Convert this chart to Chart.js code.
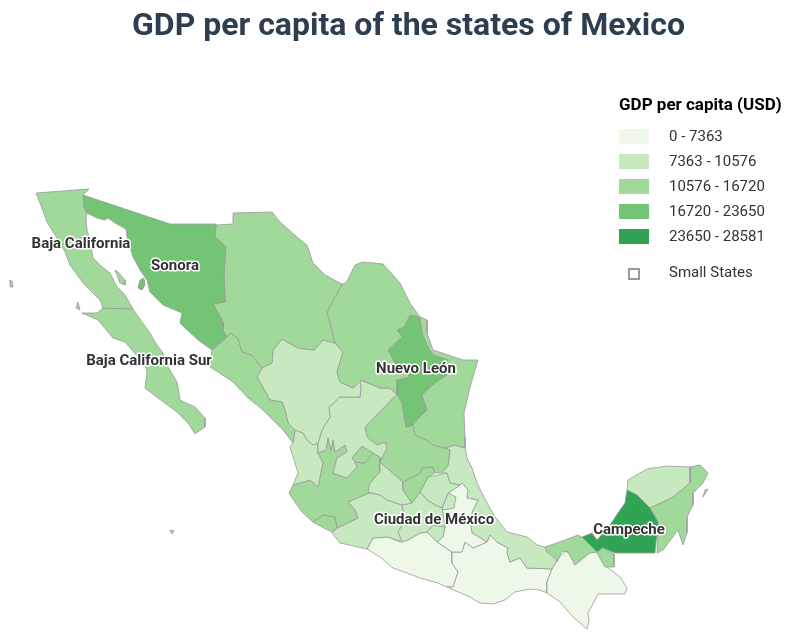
<!DOCTYPE html>
<html>
<head>
<meta charset="utf-8">
<title>GDP per capita of the states of Mexico</title>
<script src="https://cdn.jsdelivr.net/npm/chart.js@4/dist/chart.umd.min.js"></script>
<style>
  html, body { margin: 0; background: #fff; font-family: Roboto, sans-serif; }
  #wrap { position: relative; width: 794px; height: 644px; overflow: hidden; }
  #mapChart { position: absolute; left: 0; top: 0; }
  h1 { position: absolute; left: 0; width: 817px; top: 4px; margin: 0; text-align: center; font-size: 32px; line-height: 40px; font-weight: 700; color: #2c3e50; }
  #legend { position: absolute; left: 619px; top: 94px; color: #333; font-size: 15px; }
  #legend b { display: block; color: #000; font-size: 17px; line-height: 20px; white-space: nowrap; margin-bottom: 15px; }
  .row { position: relative; height: 25px; line-height: 15px; white-space: nowrap; padding-left: 50px; }
  .row i { position: absolute; left: 0; top: 0; width: 30px; height: 15px; }
  .small { margin-top: 11px; }
  .small i { left: 9px; top: 3px; width: 8px; height: 8px; border: 2px solid #999; box-sizing: content-box; }
</style>
</head>
<body>
<div id="wrap">
  <canvas id="mapChart" width="794" height="644"></canvas>
  <h1>GDP per capita of the states of Mexico</h1>
  <div id="legend"><b>GDP per capita (USD)</b></div>
</div>
<script>
// Legend bands
const bandLabels = ['0 - 7363', '7363 - 10576', '10576 - 16720', '16720 - 23650', '23650 - 28581'];
const bandColors = ['#edf8e9', '#c7e9c0', '#a1d99b', '#74c476', '#31a354'];

// State outlines in map units
const bajaCalifornia = [[36,193],[89,189],[83,195],[84,208],[87,213],[86,218],[87,230],[90,240],[93,258],[100,265],[110,273],[117,287],[125,295],[133,309],[103,308],[100,300],[83,283],[70,265],[65,252],[60,243],[47,222],[40,203]];
const bajaCaliforniaSur = [[103,308],[133,309],[142,322],[150,333],[155,342],[163,353],[168,367],[177,382],[178,387],[180,400],[195,407],[205,418],[205,427],[195,434],[188,423],[177,412],[158,398],[145,388],[147,372],[145,365],[125,342],[113,338],[98,320],[82,313],[97,313]];
const sonora = [[83,195],[170,224],[216,224],[215,237],[226,247],[224,273],[225,302],[213,304],[223,322],[223,330],[227,337],[212,350],[198,340],[185,328],[180,323],[182,313],[163,305],[150,292],[147,280],[140,270],[133,257],[127,237],[126,229],[115,223],[108,218],[105,220],[97,218],[87,213],[84,208]];
const chihuahua = [[233,213],[272,212],[280,222],[297,237],[307,245],[313,263],[325,275],[342,284],[327,312],[335,343],[323,340],[314,350],[298,348],[282,339],[273,350],[272,363],[262,368],[252,355],[242,352],[238,338],[230,333],[227,337],[223,330],[223,322],[213,304],[225,302],[224,273],[226,247],[215,237],[216,225],[233,224]];
const coahuila = [[342,284],[346,283],[355,265],[363,262],[383,264],[400,283],[410,303],[420,317],[410,315],[404,327],[397,330],[402,337],[388,350],[395,363],[410,377],[397,380],[397,394],[390,388],[380,388],[362,380],[353,388],[340,382],[337,372],[343,352],[335,343],[327,312]];
const nuevoLeon = [[410,315],[420,317],[422,333],[428,347],[433,355],[448,360],[447,375],[435,383],[422,395],[427,410],[417,420],[413,425],[406,427],[402,403],[397,394],[397,380],[410,377],[395,363],[388,350],[402,337],[397,330],[404,327]];
const tamaulipas = [[420,317],[427,320],[427,333],[433,350],[448,355],[463,360],[478,360],[470,387],[464,413],[465,437],[465,448],[455,445],[445,448],[433,445],[427,440],[415,435],[413,425],[417,420],[427,410],[422,395],[435,383],[447,375],[448,360],[433,355],[428,347],[422,333]];
const sinaloa = [[227,337],[230,333],[238,338],[242,352],[252,355],[262,368],[257,377],[270,400],[282,402],[285,410],[288,423],[295,430],[293,443],[283,430],[263,410],[248,398],[233,382],[218,372],[210,367],[212,350]];
const durango = [[282,339],[273,350],[272,363],[262,368],[257,377],[270,400],[282,402],[285,410],[288,423],[295,430],[303,433],[307,440],[313,445],[318,443],[322,430],[330,417],[329,407],[340,397],[360,397],[361,387],[360,380],[353,388],[340,382],[337,372],[343,352],[335,343],[323,340],[314,350],[298,348]];
const zacatecas = [[397,394],[365,427],[367,437],[377,445],[385,442],[387,448],[382,458],[373,453],[362,446],[352,458],[355,462],[357,467],[347,478],[333,473],[337,458],[347,452],[345,445],[335,452],[333,440],[331,450],[328,438],[326,450],[318,453],[318,443],[322,430],[330,417],[329,407],[340,397],[360,397],[361,387],[360,380],[380,388],[390,388]];
const aguascalientes = [[352,458],[362,446],[373,453],[365,463],[355,462]];
const sanLuisPotosi = [[397,394],[402,403],[406,427],[413,425],[415,435],[427,440],[433,445],[445,448],[450,450],[448,465],[442,473],[435,473],[433,467],[422,468],[420,473],[403,482],[380,462],[382,458],[387,448],[385,442],[377,445],[367,437],[365,427]];
const queretaro = [[403,482],[420,473],[422,468],[433,467],[435,473],[428,477],[420,492],[412,503],[403,490]];
const guanajuato = [[380,462],[403,482],[403,490],[412,503],[402,505],[387,500],[380,495],[368,492],[370,483],[380,472],[380,458]];
const nayarit = [[293,443],[295,430],[303,433],[307,440],[313,445],[318,443],[318,453],[323,463],[322,467],[318,487],[310,480],[293,485],[298,473],[290,447]];
const jalisco = [[293,485],[310,480],[318,487],[322,467],[323,463],[318,453],[326,450],[328,438],[331,450],[333,440],[335,452],[345,445],[347,452],[337,458],[333,473],[347,478],[357,467],[355,462],[365,463],[373,453],[380,458],[380,472],[370,483],[369,493],[348,502],[355,510],[358,518],[337,528],[335,517],[323,515],[313,522],[302,512],[292,498],[289,493]];
const colima = [[313,522],[323,515],[335,517],[337,527],[332,532],[318,525]];
const michoacan = [[369,493],[380,495],[387,500],[402,505],[405,520],[398,532],[402,542],[388,537],[373,538],[367,549],[340,543],[332,533],[337,528],[358,518],[355,510],[348,502]];
const mexicoState = [[412,503],[420,492],[427,500],[435,505],[442,508],[444,520],[445,527],[433,525],[427,532],[420,533],[408,540],[402,542],[398,532],[405,520],[402,505]];
const ciudadDeMexico = [[422,517],[430,515],[432,524],[425,527]];
const morelos = [[427,532],[433,525],[445,527],[443,537],[437,542]];
const hidalgo = [[428,477],[438,475],[447,473],[450,483],[460,485],[450,492],[448,493],[442,508],[435,505],[427,500],[420,492]];
const tlaxcala = [[448,493],[456,497],[454,508],[444,510],[442,508]];
const puebla = [[462,483],[468,490],[467,498],[478,500],[473,510],[470,520],[472,533],[487,542],[473,548],[465,542],[462,552],[452,552],[437,542],[443,537],[445,527],[444,520],[442,508],[448,493],[460,485]];
const veracruz = [[465,448],[467,458],[472,468],[477,483],[487,503],[495,517],[507,532],[527,537],[537,545],[545,547],[547,552],[557,560],[552,569],[527,568],[520,558],[510,562],[507,553],[508,548],[497,542],[490,535],[487,542],[472,533],[470,520],[473,510],[478,500],[467,498],[468,490],[462,483],[460,485],[450,483],[447,473],[442,473],[448,465],[450,450],[445,448],[455,445]];
const tabasco = [[545,547],[565,540],[578,535],[583,538],[588,543],[597,552],[590,553],[575,565],[568,552],[562,551],[557,562],[547,552]];
const tabascoEast = [[602,548],[614,554],[614,567],[605,567],[597,553]];
const campeche = [[627,490],[637,495],[650,508],[658,522],[655,553],[615,553],[603,548],[597,552],[588,543],[582,537],[592,533],[597,540],[610,525],[620,510],[625,503]];
const yucatan = [[627,490],[628,480],[647,469],[667,466],[690,467],[690,483],[673,497],[650,508],[637,495]];
const quintanaRoo = [[690,467],[700,465],[708,473],[703,483],[693,493],[693,505],[687,517],[687,533],[683,545],[678,530],[663,550],[657,553],[658,522],[650,508],[673,497],[690,483]];
const cozumel = [[705,490],[708,489],[703,497]];
const chiapas = [[552,569],[557,560],[565,551],[570,553],[575,564],[587,552],[597,552],[607,567],[620,577],[627,588],[625,594],[598,594],[588,613],[589,620],[587,629],[573,617],[560,602],[547,593],[547,582]];
const oaxaca = [[452,552],[462,552],[465,542],[473,548],[487,542],[490,535],[497,542],[508,548],[507,553],[510,562],[520,558],[527,568],[552,569],[547,582],[547,593],[540,590],[530,589],[515,592],[505,600],[493,604],[480,603],[470,597],[447,587],[453,587],[458,572],[452,563]];
const guerrero = [[367,549],[373,538],[388,537],[400,542],[408,540],[420,533],[427,532],[437,542],[452,552],[452,563],[458,572],[453,587],[447,587],[438,583],[420,578],[407,573],[393,568],[380,557]];
const guadalupeIsland = [[10,280],[12,281],[13,287],[10,287]];
const cedrosIsland = [[78,302],[80,310],[76,308]];
const angelIsland = [[115,270],[118,272],[125,280],[125,285],[120,283]];
const tiburonIsland = [[140,280],[144,278],[145,285],[142,290],[138,288]];
const socorroIsland = [[170,530],[174,531],[172,534]];

const stateOutlines = [bajaCalifornia, angelIsland, cedrosIsland, guadalupeIsland, bajaCaliforniaSur, sonora, tiburonIsland, chihuahua, coahuila, tamaulipas, nuevoLeon, sinaloa, durango, zacatecas, aguascalientes, sanLuisPotosi, queretaro, guanajuato, nayarit, jalisco, colima, socorroIsland, michoacan, mexicoState, ciudadDeMexico, morelos, hidalgo, tlaxcala, puebla, veracruz, tabasco, tabascoEast, campeche, yucatan, quintanaRoo, cozumel, chiapas, oaxaca, guerrero];
const stateBands = [2, 2, 2, 2, 2, 3, 3, 2, 2, 2, 3, 2, 1, 1, 2, 2, 2, 1, 1, 2, 2, 2, 1, 1, 1, 1, 1, 1, 0, 1, 2, 2, 4, 1, 2, 2, 0, 0, 0];

// Labelled states
const labelNames = ['Baja California', 'Sonora', 'Baja California Sur', 'Nuevo León', 'Ciudad de México', 'Campeche'];
const labelX = [81, 175, 149, 416, 434, 629];
const labelY = [244, 266, 361, 369, 520, 530];

// Build the legend
const legend = document.getElementById('legend');
bandLabels.forEach(function(label, i) {
    const row = document.createElement('div');
    row.className = 'row';
    row.innerHTML = '<i style="background:' + bandColors[i] + '"></i>' + label;
    legend.appendChild(row);
});
const smallRow = document.createElement('div');
smallRow.className = 'row small';
smallRow.innerHTML = '<i></i>Small States';
legend.appendChild(smallRow);

// Draws the state names on top of the map
const stateLabels = {
    id: 'stateLabels',
    afterDatasetsDraw(chart) {
        const c = chart.ctx;
        c.save();
        c.font = 'bold 15px Roboto, sans-serif';
        c.textAlign = 'center';
        c.textBaseline = 'middle';
        c.lineJoin = 'round';
        labelNames.forEach(function(name, i) {
            const x = chart.scales.x.getPixelForValue(labelX[i]);
            const y = chart.scales.y.getPixelForValue(labelY[i]);
            c.strokeStyle = '#fff';
            c.lineWidth = 3;
            c.strokeText(name, x, y);
            c.fillStyle = '#333';
            c.fillText(name, x, y);
        });
        c.restore();
    }
};

new Chart(document.getElementById('mapChart'), {
    type: 'scatter',
    data: {
        datasets: stateOutlines.map(function(outline, i) {
            return {
                data: outline.concat([outline[0]]),
                showLine: true,
                fill: 'shape',
                backgroundColor: bandColors[stateBands[i]],
                borderColor: '#999',
                borderWidth: 0.8,
                pointRadius: 0,
                tension: 0
            };
        })
    },
    options: {
        responsive: false,
        animation: false,
        layout: { padding: 0 },
        plugins: { legend: { display: false }, tooltip: { enabled: false } },
        scales: {
            x: { type: 'linear', min: 0, max: 794, display: false },
            y: { type: 'linear', min: 0, max: 644, reverse: true, display: false }
        }
    },
    plugins: [stateLabels]
});
</script>
</body>
</html>
